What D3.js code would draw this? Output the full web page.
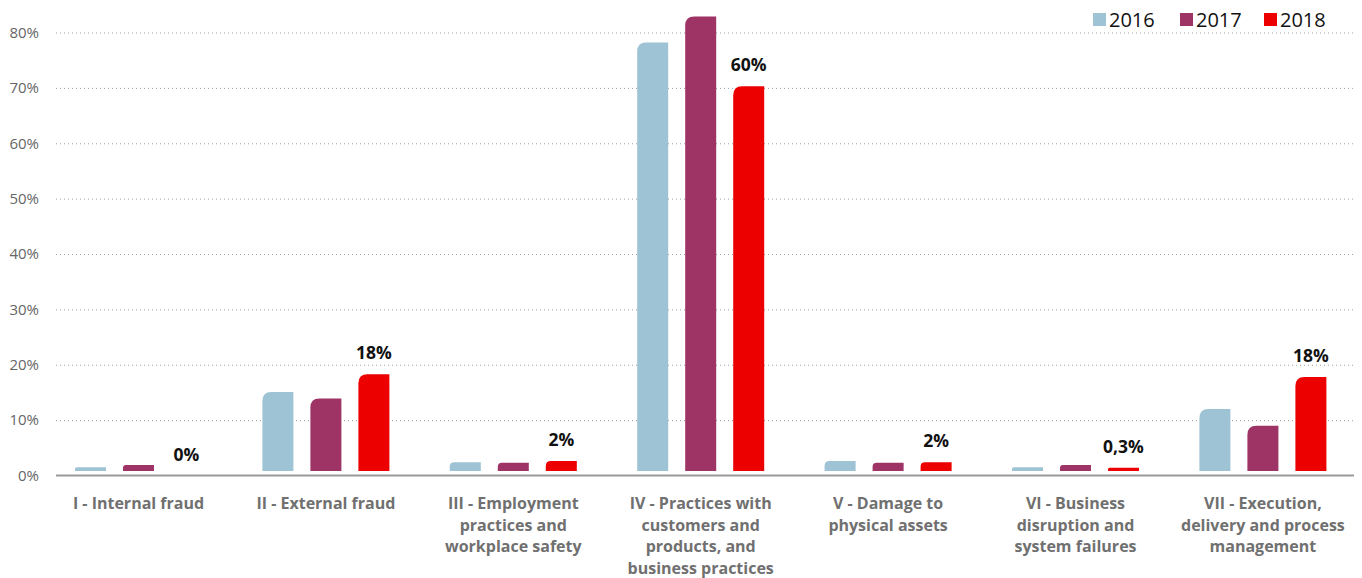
<!DOCTYPE html>
<html lang="en">
  <head>
    <meta charset="utf-8" />
    <title>Operational risk losses by category</title>
    <script src="https://cdn.jsdelivr.net/npm/d3@7"></script>
    <style>
      body { margin: 0; background: #fff; }
      text { font-family: "Open Sans", "Noto Sans", sans-serif; }
    </style>
  </head>
  <body>
    <script type="text/javascript">
      /*************************** Data ***************************/

      var categories = [
        ["I - Internal fraud"],
        ["II - External fraud"],
        ["III - Employment", "practices and", "workplace safety"],
        ["IV - Practices with", "customers and", "products, and", "business practices"],
        ["V - Damage to", "physical assets"],
        ["VI - Business", "disruption and", "system failures"],
        ["VII - Execution,", "delivery and process", "management"]
      ];
      var years = ["2016", "2017", "2018"];
      var values2016 = [1.5, 15.1, 2.4, 78.2, 2.6, 1.5, 12.0];
      var values2017 = [1.9, 13.9, 2.3, 82.9, 2.3, 1.9, 9.0];
      var values2018 = [0, 18.3, 2.6, 70.3, 2.4, 1.4, 17.8];
      var labels2018 = ["0%", "18%", "2%", "60%", "2%", "0,3%", "18%"];
      var yTicks = [0, 10, 20, 30, 40, 50, 60, 70, 80];
      var colors = ["#9dc3d4", "#9e3465", "#ec0000"];

      /*************************** Canvas ***************************/

      var width = 1362, height = 578;
      var svg = d3.select("body").append("svg")
        .attr("width", width).attr("height", height);

      var x0 = d3.scaleBand().domain(d3.range(categories.length)).range([44.8, 1356.6]);
      var x1 = d3.scaleBand().domain(years).range([0, 144])
        .paddingInner(0.354).paddingOuter(0.177);
      var y = d3.scaleLinear().domain([0, 80]).range([475.5, 32.5]);

      var series = [values2016, values2017, values2018];

      /*************************** Grid + axis ***************************/

      var yAxis = d3.axisLeft(y).tickValues(yTicks)
        .tickSize(-(1354 - 56)).tickPadding(17)
        .tickFormat(function (d) { return d + "%"; });

      var gy = svg.append("g").attr("transform", "translate(56,0)").call(yAxis);
      gy.select(".domain").remove();
      gy.selectAll(".tick line")
        .attr("stroke", "#a0a0a0").attr("stroke-dasharray", "1,3")
        .filter(function (d) { return d === 0; }).remove();
      gy.selectAll(".tick text")
        .attr("fill", "#666").style("font-size", "15px");

      svg.append("line")
        .attr("x1", 56).attr("x2", 1354)
        .attr("y1", y(0)).attr("y2", y(0))
        .attr("stroke", "#999").attr("stroke-width", 2);

      /*************************** Bars ***************************/

      // only the top-left corner is rounded
      function barPath(x, w, top, bottom) {
        var h = bottom - top;
        if (h <= 0) return "";
        var r = Math.min(9, h / 2);
        return "M" + x + "," + bottom +
          "V" + (top + r) +
          "Q" + x + "," + top + " " + (x + r) + "," + top +
          "H" + (x + w) + "V" + bottom + "Z";
      }

      var groups = svg.selectAll("g.cat").data(categories).enter().append("g")
        .attr("class", "cat")
        .attr("transform", function (d, i) {
          return "translate(" + (x0(i) + x0.bandwidth() / 2 - 72) + ",0)";
        });

      groups.each(function (c, i) {
        var g = d3.select(this);
        years.forEach(function (yr, j) {
          var v = series[j][i];
          if (v <= 0) return;
          g.append("path")
            .attr("d", barPath(x1(yr), x1.bandwidth(), y(v), y(0) - 4.5))
            .attr("fill", colors[j]);
        });

        g.append("text")
          .attr("x", x1("2018") + x1.bandwidth() / 2)
          .attr("y", y(values2018[i]) - 15)
          .attr("text-anchor", "middle")
          .attr("fill", "#111")
          .style("font-size", "17.5px").style("font-weight", "bold")
          .text(labels2018[i]);

        var t = g.append("text")
          .attr("x", 72)
          .attr("y", 509)
          .attr("text-anchor", "middle")
          .attr("fill", "#707070")
          .style("font-size", "16px").style("font-weight", "bold");
        c.forEach(function (line, k) {
          t.append("tspan").attr("x", 72).attr("dy", k === 0 ? 0 : 21.5).text(line);
        });
      });

      /*************************** Legend ***************************/

      var legendX = [1093, 1180, 1264];
      var legend = svg.selectAll("g.legend").data(years).enter().append("g")
        .attr("class", "legend")
        .attr("transform", function (d, i) { return "translate(" + legendX[i] + ",0)"; });
      legend.append("rect")
        .attr("y", 13).attr("width", 13).attr("height", 13)
        .attr("fill", function (d, i) { return colors[i]; });
      legend.append("text")
        .attr("x", 16).attr("y", 26.5)
        .attr("fill", "#111").style("font-size", "20px")
        .text(function (d) { return d; });
    </script>
  </body>
</html>
